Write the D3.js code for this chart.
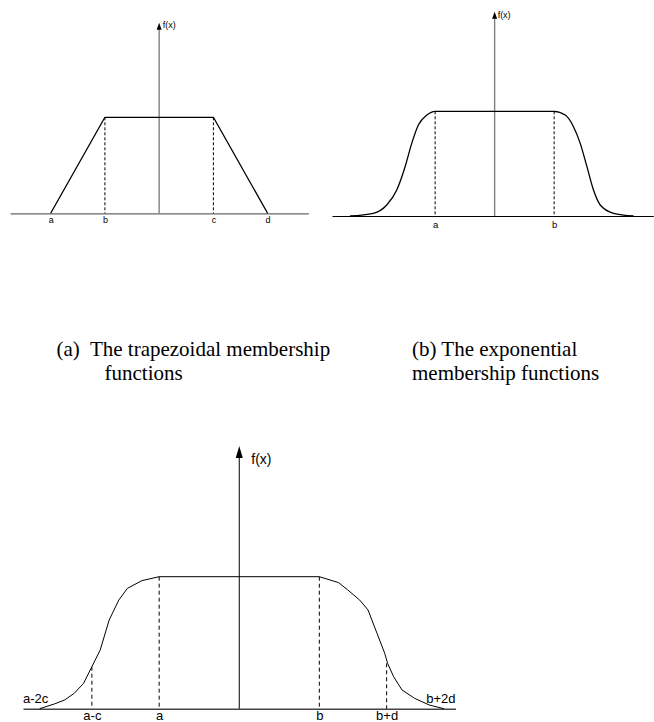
<!DOCTYPE html>
<html>
<head>
<meta charset="utf-8">
<script src="https://cdn.jsdelivr.net/npm/d3@7"></script>
<style>
  html, body { margin: 0; padding: 0; background: #fff; }
  svg { display: block; }
  .cap { font-family: "Liberation Serif", "Times New Roman", serif; font-size: 21px; fill: #000; white-space: pre; }
</style>
</head>
<body>
<svg id="fig" width="654" height="722"></svg>
<script>
// ---- (a) trapezoidal membership function ----
const A_TICKS = ["a", "b", "c", "d"];
const A_TICK_X = [-4, -2, 2, 4];
const A_SHAPE_X = [-4, -2, 2, 4];
const A_SHAPE_Y = [0, 1, 1, 0];
const A_DASH_X = [-2, 2];

// ---- (b) exponential membership function ----
const B_TICKS = ["a", "b"];
const B_TICK_X = [-6, 6];
const B_CURVE_X = [-14.59, -12.23, -10.88, -9.87, -9.03, -8.36, -7.69, -6.84, -6,
                   6, 7.12, 7.95, 8.63, 9.31, 9.97, 10.65, 11.99, 14.01];
const B_CURVE_Y = [0, 0.026, 0.105, 0.248, 0.471, 0.694, 0.869, 0.964, 1,
                   1, 0.964, 0.853, 0.694, 0.471, 0.248, 0.105, 0.026, 0];
const B_DASH_X = [-6, 6];

// ---- (c) membership function with shoulders ----
const C_TICKS = ["a-c", "a", "b", "b+d"];
const C_TICK_X = [-4.6, -2.5, 2.5, 4.6];
const C_CURVE_X = [-6.23, -5.77, -5.45, -5.15, -4.86, -4.60, -4.34, -4.06, -3.76, -3.49, -3.04, -2.5,
                   2.5, 3.10, 3.39, 3.76, 4.02, 4.30, 4.54, 4.63, 4.82, 5.08, 5.47, 5.93, 6.39];
const C_CURVE_Y = [0, 0.036, 0.066, 0.117, 0.192, 0.318, 0.445, 0.672, 0.823, 0.912, 0.970, 1,
                   1, 0.955, 0.899, 0.823, 0.748, 0.571, 0.420, 0.344, 0.242, 0.142, 0.079, 0.028, 0];
const C_DASH_X = [-4.6, -2.5, 2.5, 4.6];
const C_DASH_TOP = [0.318, 1, 1, 0.344];
const C_END_LABELS = ["a-2c", "b+2d"];

const CAPTION_A = ["(a)  The trapezoidal membership", "functions"];
const CAPTION_B = ["(b) The exponential", "membership functions"];

const svg = d3.select("#fig");
svg.append("rect").attr("width", 654).attr("height", 722).attr("fill", "#fff");

const zip = (xs, ys) => xs.map((x, i) => [x, ys[i]]);

function arrowHead(g, x, y, w, h, color) {
  g.append("path")
    .attr("d", `M${x},${y} L${x - w / 2},${y + h} L${x + w / 2},${y + h} Z`)
    .attr("fill", color);
}

function panel(cfg) {
  const g = svg.append("g");
  const x = d3.scaleLinear().domain(cfg.xDomain).range(cfg.xRange);
  const y = d3.scaleLinear().domain([0, 1]).range(cfg.yRange);

  // baseline with tick labels
  const axis = d3.axisBottom(x)
    .tickValues(cfg.tickX)
    .tickFormat((d, i) => cfg.ticks[i])
    .tickSize(0)
    .tickSizeOuter(0)
    .tickPadding(cfg.tickPad);
  const ax = g.append("g").attr("transform", `translate(0,${y(0)})`).call(axis);
  ax.select(".domain").attr("stroke", cfg.baseColor).attr("stroke-width", cfg.baseWidth);
  ax.selectAll(".tick text")
    .attr("font-family", "'Liberation Sans', Arial, sans-serif")
    .attr("font-size", cfg.tickFont)
    .attr("fill", "#000");

  // dashed guides
  g.selectAll(".guide").data(cfg.dashX).join("line")
    .attr("x1", d => x(d)).attr("x2", d => x(d))
    .attr("y1", (d, i) => y(cfg.dashTop ? cfg.dashTop[i] : 1)).attr("y2", y(0))
    .attr("stroke", "#000").attr("stroke-width", 1)
    .attr("stroke-dasharray", cfg.dash);

  // vertical f(x) axis
  g.append("line")
    .attr("x1", x(0)).attr("x2", x(0))
    .attr("y1", y(0)).attr("y2", y(cfg.axisTop) + cfg.headH - 1)
    .attr("stroke", cfg.axisColor).attr("stroke-width", cfg.axisWidth);
  arrowHead(g, x(0), y(cfg.axisTop), cfg.headW, cfg.headH, "#000");
  g.append("text")
    .attr("x", x(0) + cfg.fxDx).attr("y", y(cfg.axisTop) + cfg.fxDy)
    .attr("font-family", "'Liberation Sans', Arial, sans-serif")
    .attr("font-size", cfg.fxFont)
    .text("f(x)");

  // membership curve
  const line = d3.line().x(d => x(d[0])).y(d => y(d[1])).curve(cfg.curve);
  g.append("path")
    .datum(zip(cfg.shapeX, cfg.shapeY))
    .attr("d", line)
    .attr("fill", "none")
    .attr("stroke", "#000")
    .attr("stroke-width", cfg.curveWidth)
    .attr("stroke-linejoin", "round");

  return { g, x, y };
}

panel({
  xDomain: [-5.5, 5.5], xRange: [10, 308.3], yRange: [213.3, 117.3],
  ticks: A_TICKS, tickX: A_TICK_X, tickPad: 3.8, tickFont: 9,
  baseColor: "#666", baseWidth: 1.3,
  dashX: A_DASH_X, dash: "3,2",
  axisTop: 1.985, axisColor: "#808080", axisWidth: 1.4, headW: 5, headH: 7,
  fxDx: 3.5, fxDy: 5.5, fxFont: 9,
  shapeX: A_SHAPE_X, shapeY: A_SHAPE_Y, curve: d3.curveLinear, curveWidth: 1.3
});

panel({
  xDomain: [-16.4, 16.0], xRange: [332, 653.3], yRange: [216, 111.3],
  ticks: B_TICKS, tickX: B_TICK_X, tickPad: 4.8, tickFont: 9.5,
  baseColor: "#000", baseWidth: 1.2,
  dashX: B_DASH_X, dash: "3,2",
  axisTop: 1.95, axisColor: "#808080", axisWidth: 1.4, headW: 5, headH: 7,
  fxDx: 3, fxDy: 6, fxFont: 9,
  shapeX: B_CURVE_X, shapeY: B_CURVE_Y, curve: d3.curveMonotoneX, curveWidth: 1.3
});

const pc = panel({
  xDomain: [-6.75, 6.75], xRange: [23, 455.5], yRange: [708.7, 576.7],
  ticks: C_TICKS, tickX: C_TICK_X, tickPad: 1.8, tickFont: 13,
  baseColor: "#444", baseWidth: 1.5,
  dashX: C_DASH_X, dashTop: C_DASH_TOP, dash: "4,3",
  axisTop: 1.99, axisColor: "#000", axisWidth: 1, headW: 7, headH: 12,
  fxDx: 12, fxDy: 18, fxFont: 14,
  shapeX: C_CURVE_X, shapeY: C_CURVE_Y, curve: d3.curveLinear, curveWidth: 1
});

// end labels sitting just above the baseline of (c)
pc.g.selectAll(".endlab").data(C_END_LABELS).join("text")
  .attr("x", (d, i) => pc.x(pc.x.domain()[i]))
  .attr("y", pc.y(0.043))
  .attr("text-anchor", (d, i) => i === 0 ? "start" : "end")
  .attr("font-family", "'Liberation Sans', Arial, sans-serif")
  .attr("font-size", 13)
  .text(d => d);

// captions
function caption(lines, xs, ys) {
  svg.selectAll(null).data(lines).join("text")
    .attr("class", "cap")
    .attr("x", (d, i) => xs[i]).attr("y", (d, i) => ys[i])
    .text(d => d);
}
caption(CAPTION_A, [56.5, 104.5], [356, 380]);
caption(CAPTION_B, [412, 412], [356, 380]);
</script>
</body>
</html>
